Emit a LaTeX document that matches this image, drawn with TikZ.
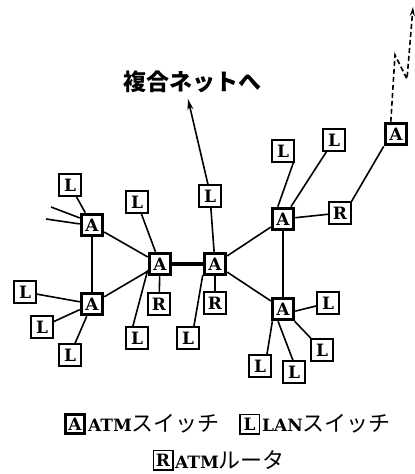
\documentclass[tikz,border=0pt]{standalone}
\usepackage{fontspec}
\newfontfamily\jpfont{Noto Sans CJK JP}
\newfontfamily\boxfont{DejaVu Serif}
\usetikzlibrary{arrows.meta}
\begin{document}
\begin{tikzpicture}[x=1pt,y=-1pt,
  box/.style={draw, line width=1.6pt, minimum size=21.5pt, inner sep=0pt,
    font=\boxfont\bfseries\fontsize{17}{17}\selectfont},
  abox/.style={box, line width=3pt},
  lgbox/.style={box, minimum size=19.5pt, line width=1.5pt},
  lgabox/.style={lgbox, line width=2.6pt},
  lgtext/.style={anchor=west, inner sep=0pt, font=\fontsize{22}{22}\selectfont},
  ln/.style={line width=1.6pt},
  thinln/.style={line width=1.2pt},
  thickln/.style={line width=4pt},
]
\useasboundingbox (0,0) rectangle (415,474);

% ATM switches
\node[abox] (acl) at (160,264) {A};
\node[abox] (acr) at (215,264) {A};
\node[abox] (aul) at (92,225) {A};
\node[abox] (all) at (92,304) {A};
\node[abox] (aur) at (283,219) {A};
\node[abox] (alr) at (283,309) {A};
\node[abox] (afr) at (396,134) {A};
% LAN switches
\node[box] (l1) at (70,185) {L};
\node[box] (l2) at (137,202) {L};
\node[box] (l3) at (210,196) {L};
\node[box] (l4) at (283,151) {L};
\node[box] (l5) at (334,140) {L};
\node[box] (l6) at (25,292) {L};
\node[box] (l7) at (42,327) {L};
\node[box] (l8) at (70,355) {L};
\node[box] (l9) at (137,338) {L};
\node[box] (l10) at (188,338) {L};
\node[box] (l11) at (328,303) {L};
\node[box] (l12) at (322,350) {L};
\node[box] (l13) at (260,366) {L};
\node[box] (l14) at (294,372) {L};
% ATM routers
\node[box] (r1) at (159,304) {R};
\node[box] (r2) at (215,303) {R};
\node[box] (r3) at (340,213) {R};

% label
\node[font=\jpfont\bfseries\fontsize{23}{23}\selectfont] (net) at (192,82) {複合ネットへ};

% free ends
\coordinate (s1) at (51,207);
\coordinate (s2) at (46,219);
\coordinate (tip) at (188,99);
\coordinate (d1) at (395,55);
\coordinate (d2) at (407,79);
\coordinate (d3) at (413,7);

% connectors
\draw[ln] (l1) -- (aul);
\draw[ln] (s1) -- (aul.150);
\draw[ln] (s2) -- (aul.175);
\draw[thinln] (aul) -- (all);
\draw[ln] (aul) -- (acl);
\draw[ln] (l2) -- (acl);
\draw[thickln] (acl) -- (acr);
\draw[ln] (acl) -- (r1);
\draw[ln] (l9.110) -- (acl.206);
\draw[ln] (all) -- (acl);
\draw[ln] (all) -- (l6);
\draw[ln] (all) -- (l7);
\draw[ln] (all) -- (l8);
\draw[ln] (acr) -- (l3);
\draw[ln,-{Stealth[length=11pt,width=6pt]}] (l3.100) -- (tip);
\draw[ln] (acr) -- (r2);
\draw[ln] (l10.63) -- (acr.222);
\draw[ln] (acr) -- (aur);
\draw[ln] (acr) -- (alr);
\draw[ln] (aur.113) -- (l4.-48);
\draw[ln] (aur) -- (l5);
\draw[ln] (aur) -- (r3);
\draw[thinln] (aur) -- (alr);
\draw[ln] (r3.north east) -- (afr.south west);
\draw[ln] (alr.-10) -- (l11);
\draw[ln] (alr) -- (l12);
\draw[ln] (alr.229) -- (l13.59);
\draw[ln] (alr.248) -- (l14.95);
\draw[ln,dash pattern=on 5pt off 3pt,-{Stealth[length=9pt,width=5pt]}]
  (afr.113) -- (d1) -- (d2) -- (d3);

% legend
\node[lgabox] (lga) at (75,424) {A};
\node[lgtext] (lgat) at (88,424) {{\boxfont\bfseries\fontsize{17}{17}\selectfont ATM}{\jpfont スイッチ}};
\node[lgbox] (lgl) at (249.5,424) {L};
\node[lgtext] (lglt) at (262,424) {{\boxfont\bfseries\fontsize{17}{17}\selectfont LAN}{\jpfont スイッチ}};
\node[lgbox] (lgr) at (163,460) {R};
\node[lgtext] (lgrt) at (175,460) {{\boxfont\bfseries\fontsize{17}{17}\selectfont ATM}{\jpfont ルータ}};
\end{tikzpicture}
\end{document}
